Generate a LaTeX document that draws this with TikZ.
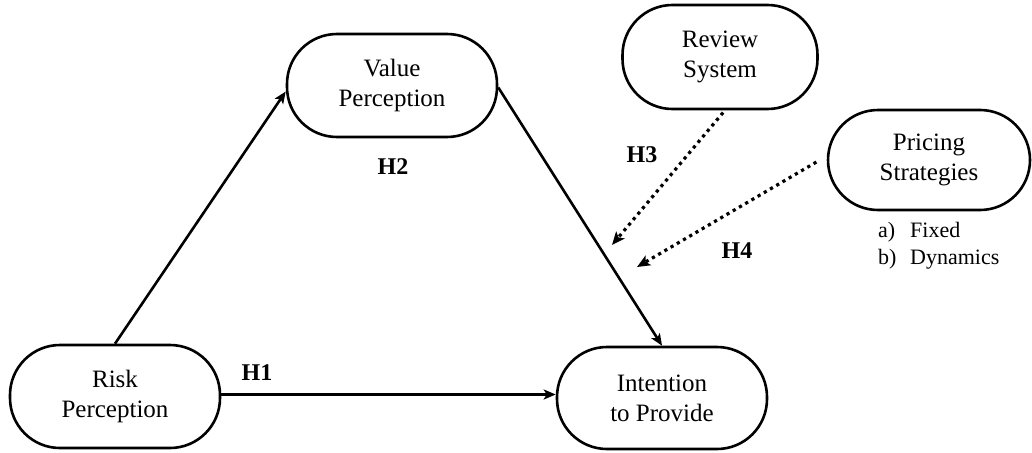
\documentclass[tikz,border=0pt]{standalone}
\usepackage{fontspec}
\setmainfont{Liberation Serif}
\usetikzlibrary{arrows.meta,calc}
\begin{document}
\begin{tikzpicture}[x=1pt,y=-1pt,
  pill/.style={draw, line width=2.6pt, rounded corners=50pt, align=center,
    minimum width=210pt, minimum height=103pt, inner sep=0pt,
    font=\fontsize{25}{30}\selectfont},
  hlabel/.style={font=\fontsize{24}{28}\selectfont\bfseries, inner sep=0pt},
  path/.style={line width=2.6pt, -{Stealth[length=12pt,width=10pt,inset=3pt]}},
  modpath/.style={line width=3.2pt, dash pattern=on 3.2pt off 4pt,
    -{Stealth[length=13pt,width=11pt,inset=3pt]}}]
  \useasboundingbox (0,0) rectangle (1032,452);

  % constructs
  \node[pill] (val) at (392,85.5) {Value\\Perception};
  \node[pill, minimum width=195pt, minimum height=104pt] (rev) at (720,57) {Review\\System};
  \node[pill, minimum width=202pt, minimum height=100pt] (pri) at (929,160) {Pricing\\Strategies};
  \node[pill] (risk) at (115,396.5) {Risk\\Perception};
  \node[pill, minimum height=102pt] (int) at (662,398) {Intention\\to Provide};

  % pricing options
  \node[anchor=west, align=left, inner sep=0pt,
        font=\fontsize{22}{27}\selectfont] (opts) at (878,246)
    {\makebox[32pt][l]{a)}Fixed\\\makebox[32pt][l]{b)}Dynamics};

  % direct paths
  \draw[path] (risk.north) -- ([yshift=-6pt]val.west);
  \draw[path] ([yshift=-2pt]val.east) -- (int.north);
  \draw[path] ([yshift=2pt]risk.east) -- ([yshift=2pt]risk.east -| int.west);

  % moderating effects
  \coordinate (h3tip) at (612,245);
  \coordinate (h4tip) at (637,267);
  \draw[modpath, shorten <=3pt] ([xshift=5pt]rev.south) -- (h3tip);
  \draw[modpath, shorten <=12pt] ([yshift=4pt]pri.west) -- (h4tip);

  % hypothesis labels
  \node[hlabel] (h1) at (257,373) {H1};
  \node[hlabel] (h2) at (393,167) {H2};
  \node[hlabel] (h3) at (642,155) {H3};
  \node[hlabel] (h4) at (737,251) {H4};
\end{tikzpicture}
\end{document}
